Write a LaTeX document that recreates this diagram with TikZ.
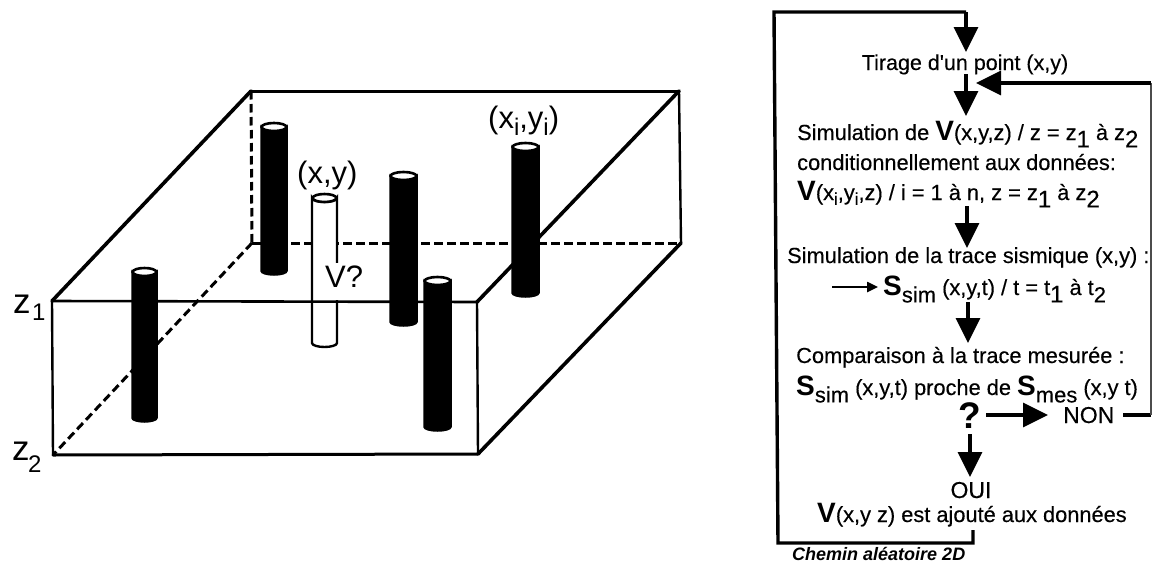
\documentclass[tikz,border=0pt]{standalone}
\usepackage{fontspec}
\setmainfont{Liberation Sans}
\newfontfamily\flowfont{Liberation Sans}[FakeBold=0.3]
\usetikzlibrary{arrows.meta}
\newcommand{\lsub}[1]{\raisebox{-0.34em}{\fontsize{24}{26}\selectfont #1}}
\newcommand{\lsb}[1]{\raisebox{-0.34em}{\fontsize{22}{24}\selectfont #1}}
\newcommand{\lsm}[1]{\raisebox{-0.22em}{\fontsize{17}{20}\selectfont #1}}
\newcommand{\bV}{{\normalfont\fontsize{28}{30}\selectfont\bfseries V}}
\newcommand{\bS}{{\normalfont\fontsize{28}{30}\selectfont\bfseries S}}
\tikzset{
  x=1pt,y=-1pt,
  edgeline/.style={line width=3pt,black,line cap=round},
  diagedge/.style={line width=3.6pt,black,line cap=round},
  thinedge/.style={line width=2.4pt,black},
  hidden/.style={line width=3pt,black,dash pattern=on 8.5pt off 4.5pt},
  flowline/.style={line width=3.4pt,black},
  flowarrow/.style={line width=3.4pt,black,-{Triangle[length=25pt,width=24pt]}},
  smallarrow/.style={line width=2.4pt,black,-{Triangle[length=11pt,width=10pt]}},
  txt/.style={inner sep=0pt,anchor=base west,font=\flowfont\fontsize{21.8}{24}\selectfont},
  big/.style={inner sep=0pt,anchor=base west,font=\fontsize{31}{34}\selectfont},
  well/.style={draw=black,line width=1.5pt,fill=black},
  probe/.style={draw=black,line width=2.4pt,fill=white},
}
\newcommand{\wellat}[5]{% x left, x right, y top, y bottom, style
  \path[#5] (#1,#3) -- (#1,#4) arc[start angle=180,end angle=0,x radius={(#2-#1)/2},y radius=4] -- (#2,#3) arc[start angle=0,end angle=180,x radius={(#2-#1)/2},y radius=4] -- cycle;
  \path[draw=black,line width=2.6pt,fill=white] ({(#1+#2)/2},#3) ellipse[x radius={(#2-#1)/2-0.6},y radius=4];
}
\begin{document}
\begin{tikzpicture}
\useasboundingbox[fill=white] (0,0) rectangle (1153,562);
% box corners
\coordinate (ftl) at (52,301);
\coordinate (fbl) at (53,455);
\coordinate (ftr) at (477,302);
\coordinate (fbr) at (478,454);
\coordinate (btl) at (251,91);
\coordinate (bbl) at (252,243);
\coordinate (btr) at (679,91);
\coordinate (bbr) at (681,243);
% hidden edges
\draw[hidden] (btl) -- (bbl);
\draw[hidden] (bbl) -- (fbl);
\draw[hidden] (bbl) -- (bbr);
% visible edges
\draw[diagedge] (ftl) -- (btl);
\draw[edgeline] (btl) -- (btr);
\draw[diagedge] (ftr) -- (btr);
\draw[thinedge] (btr) -- (bbr);
\draw[diagedge] (fbr) -- (bbr);
\draw[thinedge] (ftl) -- (fbl);
\draw[thinedge] (ftr) -- (fbr);
\draw[edgeline] (fbl) -- (fbr);
% wells
\wellat{261}{287}{127}{271}{well}
\wellat{312}{337}{198}{343}{probe}
\draw[thinedge,line width=2.6pt] (ftl) -- (ftr);
\wellat{132}{157}{272}{418}{well}
\wellat{390}{417}{176}{322}{well}
\wellat{424}{451}{281}{427}{well}
\wellat{512}{539}{147}{293}{well}
% labels left
\node[big,font=\fontsize{35}{36}\selectfont] (zone) at (13,313) {z};
\node[inner sep=0pt,anchor=base west,font=\fontsize{24}{26}\selectfont] (zonesub) at (32,320) {1};
\node[big,font=\fontsize{35}{36}\selectfont] (ztwo) at (12,460) {z};
\node[inner sep=0pt,anchor=base west,font=\fontsize{24}{26}\selectfont] (ztwosub) at (28,472) {2};
\node[big,fill=white,inner ysep=0pt,text depth=12.5pt,text height=24pt] (vq) at (325,287) {V?};
\node[big] (xy) at (297,183) {(x,y)};
\node[big] (xiyi) at (488,128) {(x\raisebox{-0.25em}{\fontsize{24}{26}\selectfont i},y\raisebox{-0.25em}{\fontsize{24}{26}\selectfont i})};
% flow text
\node[txt,anchor=base,font=\flowfont\fontsize{21.5}{24}\selectfont] (tirage) at (965,70) {Tirage d'un point (x,y)};
\node[txt] (sim) at (797,140) {Simulation de \bV(x,y,z) / z = z\lsub{1} à z\lsub{2}};
\node[txt] (cond) at (797,170) {conditionnellement aux données:};
\node[txt] (vcond) at (797,200) {\bV(x\lsm{i},y\lsm{i},z) / i = 1 à n, z = z\lsub{1} à z\lsub{2}};
\node[txt] (trace) at (787,263) {Simulation de la trace sismique (x,y) :};
\node[txt] (ssim) at (883,295) {\bS\lsb{sim} (x,y,t) / t = t\lsub{1} à t\lsb{2}};
\node[txt] (comp) at (796,363) {Comparaison à la trace mesurée :};
\node[txt] (proche) at (796,395) {\bS\lsb{sim} (x,y,t) proche de \bS\lsb{mes} (x,y t)};
\node[inner sep=0pt,anchor=base,font=\fontsize{37}{38}\selectfont\bfseries] (q) at (970,428) {?};
\node[inner sep=0pt,anchor=base west,font=\flowfont\fontsize{23}{25}\selectfont] (non) at (1063,423) {NON};
\node[inner sep=0pt,anchor=base,font=\flowfont\fontsize{23}{25}\selectfont] (oui) at (971,498) {OUI};
\node[txt] (ajout) at (817,522) {\bV(x,y z) est ajouté aux données};
\node[inner sep=0pt,anchor=base west,font=\fontsize{18}{20}\selectfont\itshape\bfseries] (chemin) at (792,560) {Chemin aléatoire 2D};
% flow connectors
\coordinate (tipa) at (966,52);
\coordinate (topl) at (774,12);
\coordinate (topr) at (966,12);
\coordinate (botl) at (778,543);
\coordinate (botr) at (973,543);
\coordinate (botu) at (973,530);
\draw[flowline,line join=miter] (botu) -- (botr) -- (botl) -- (topl) -- (topr);
\draw[flowarrow] (topr) -- (tipa);
\coordinate (a2s) at (966,74); \coordinate (a2e) at (966,116);
\draw[flowarrow] (a2s) -- (a2e);
\coordinate (a3s) at (967,206); \coordinate (a3e) at (967,248);
\draw[flowarrow] (a3s) -- (a3e);
\coordinate (a4s) at (968,302); \coordinate (a4e) at (968,343);
\draw[flowarrow] (a4s) -- (a4e);
\coordinate (a5s) at (970,434); \coordinate (a5e) at (970,477);
\draw[flowarrow] (a5s) -- (a5e);
\coordinate (a6s) at (986,415); \coordinate (a6e) at (1048,415);
\draw[flowarrow] (a6s) -- (a6e);
\coordinate (s1) at (832,287); \coordinate (s2) at (878,287);
\draw[smallarrow] (s1) -- (s2);
\coordinate (r1) at (1123,415); \coordinate (r2) at (1151,415); \coordinate (r3) at (1151,83); \coordinate (r4) at (976,83);
\draw[flowline] (r1) -- (r2);
\draw[line width=1.2pt,black!70] (r2) -- (r3);
\draw[flowarrow] (r3) -- (r4);
\end{tikzpicture}
\end{document}
